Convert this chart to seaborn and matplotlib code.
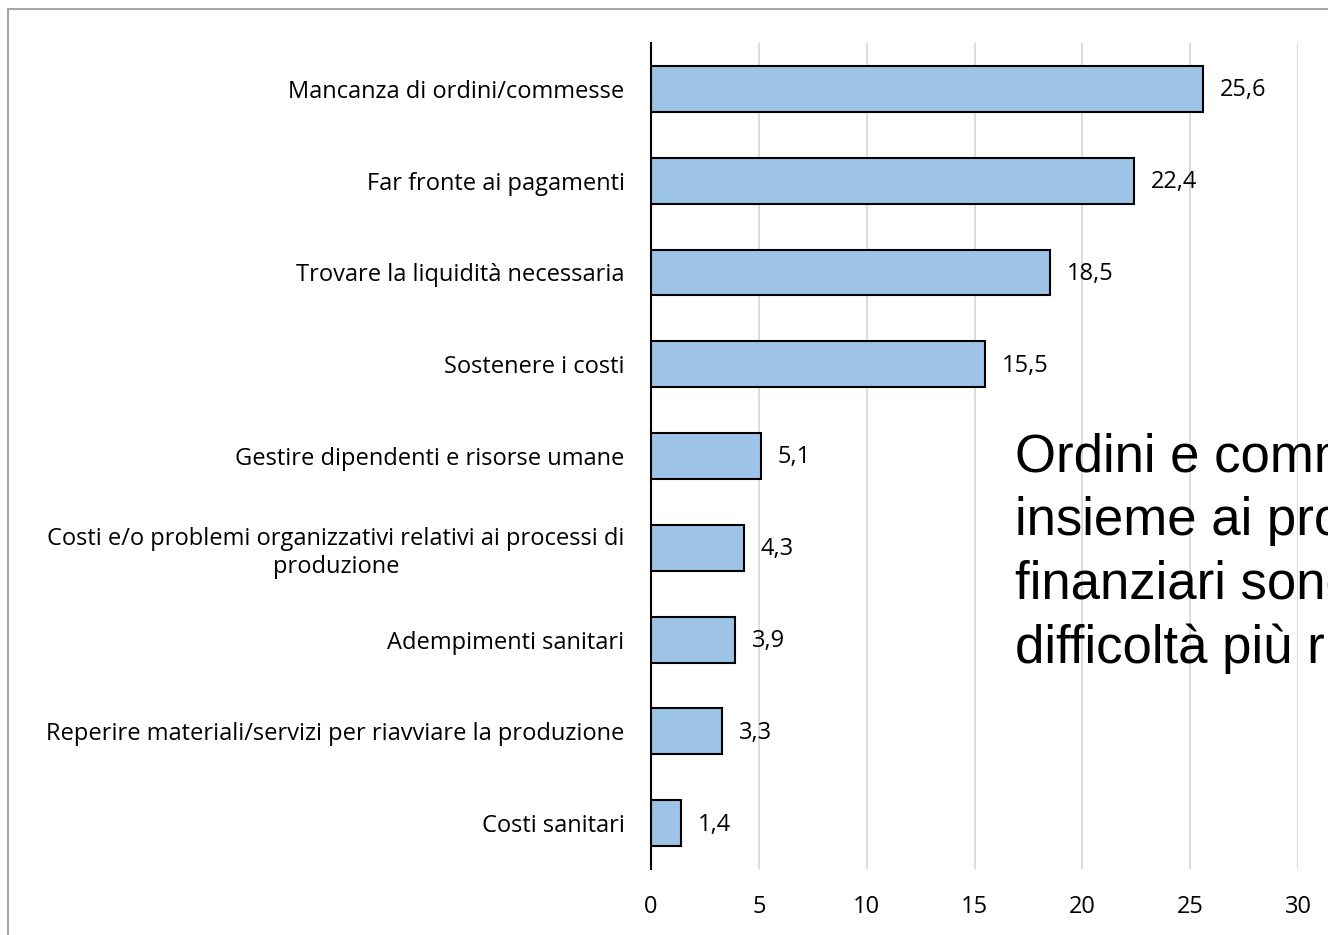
import matplotlib
matplotlib.use("Agg")
import matplotlib.pyplot as plt
import seaborn as sns
import pandas as pd
from matplotlib.patches import Rectangle

categories = [
    "Mancanza di ordini/commesse",
    "Far fronte ai pagamenti",
    "Trovare la liquidità necessaria",
    "Sostenere i costi",
    "Gestire dipendenti e risorse umane",
    "Costi e/o problemi organizzativi relativi ai processi di\nproduzione",
    "Adempimenti sanitari",
    "Reperire materiali/servizi per riavviare la produzione",
    "Costi sanitari",
]
values = [25.6, 22.4, 18.5, 15.5, 5.1, 4.3, 3.9, 3.3, 1.4]
xticks = [0, 5, 10, 15, 20, 25, 30]
note = "Ordini e commesse\ninsieme ai problemi\nfinanziari sono le\ndifficoltà più rilevanti"

sns.set_style("white")
plt.rcParams["font.family"] = ["Open Sans", "DejaVu Sans"]
plt.rcParams["text.color"] = "black"
plt.rcParams["xtick.color"] = "black"
plt.rcParams["ytick.color"] = "black"

df = pd.DataFrame({"cat": categories, "val": values})

fig = plt.figure(figsize=(13.28, 9.35), dpi=100)
ax = fig.add_axes([651 / 1328, 1 - 869 / 935, (1298 - 651) / 1328, (869 - 43) / 935])

sns.barplot(data=df, x="val", y="cat", orient="h", color="#9DC3E6",
            edgecolor="black", linewidth=1.5, width=0.5, saturation=1, ax=ax, zorder=3)

fs = 17
ax.set_xlim(0, 30)
ax.set_ylim(8.5, -0.5)
ax.set_xticks(xticks)
ax.set_xticklabels([str(t) for t in xticks], fontsize=fs)
ax.xaxis.grid(True, color="#D9D9D9", linewidth=1.3, zorder=0)
ax.set_axisbelow(True)
ax.set_xlabel("")
ax.set_ylabel("")
for s in ["top", "right", "bottom"]:
    ax.spines[s].set_visible(False)
ax.spines["left"].set_color("black")
ax.spines["left"].set_linewidth(1.5)
ax.spines["left"].set_zorder(4)
ax.tick_params(axis="y", length=0, pad=19, labelsize=fs)
ax.tick_params(axis="x", length=0, pad=19)
for lab in ax.get_yticklabels():
    lab.set_multialignment("center")
    lab.set_linespacing(1.25)

for i, v in enumerate(values):
    ax.annotate(f"{v:.1f}".replace(".", ","), xy=(v, i), xytext=(12, -1),
                textcoords="offset points", va="center", ha="left", fontsize=fs)

fig.text(1015 / 1328, 1 - 432 / 935, note, fontsize=38, family=["Liberation Sans", "DejaVu Sans"],
         ha="left", va="top", linespacing=1.35)

fig.patches.append(Rectangle((8 / 1328, -0.1), 1.2, 1 - 9 / 935 + 0.1, transform=fig.transFigure,
                             fill=False, edgecolor="#A6A6A6", linewidth=1.5, clip_on=False))

fig.savefig("out.png", dpi=100)
